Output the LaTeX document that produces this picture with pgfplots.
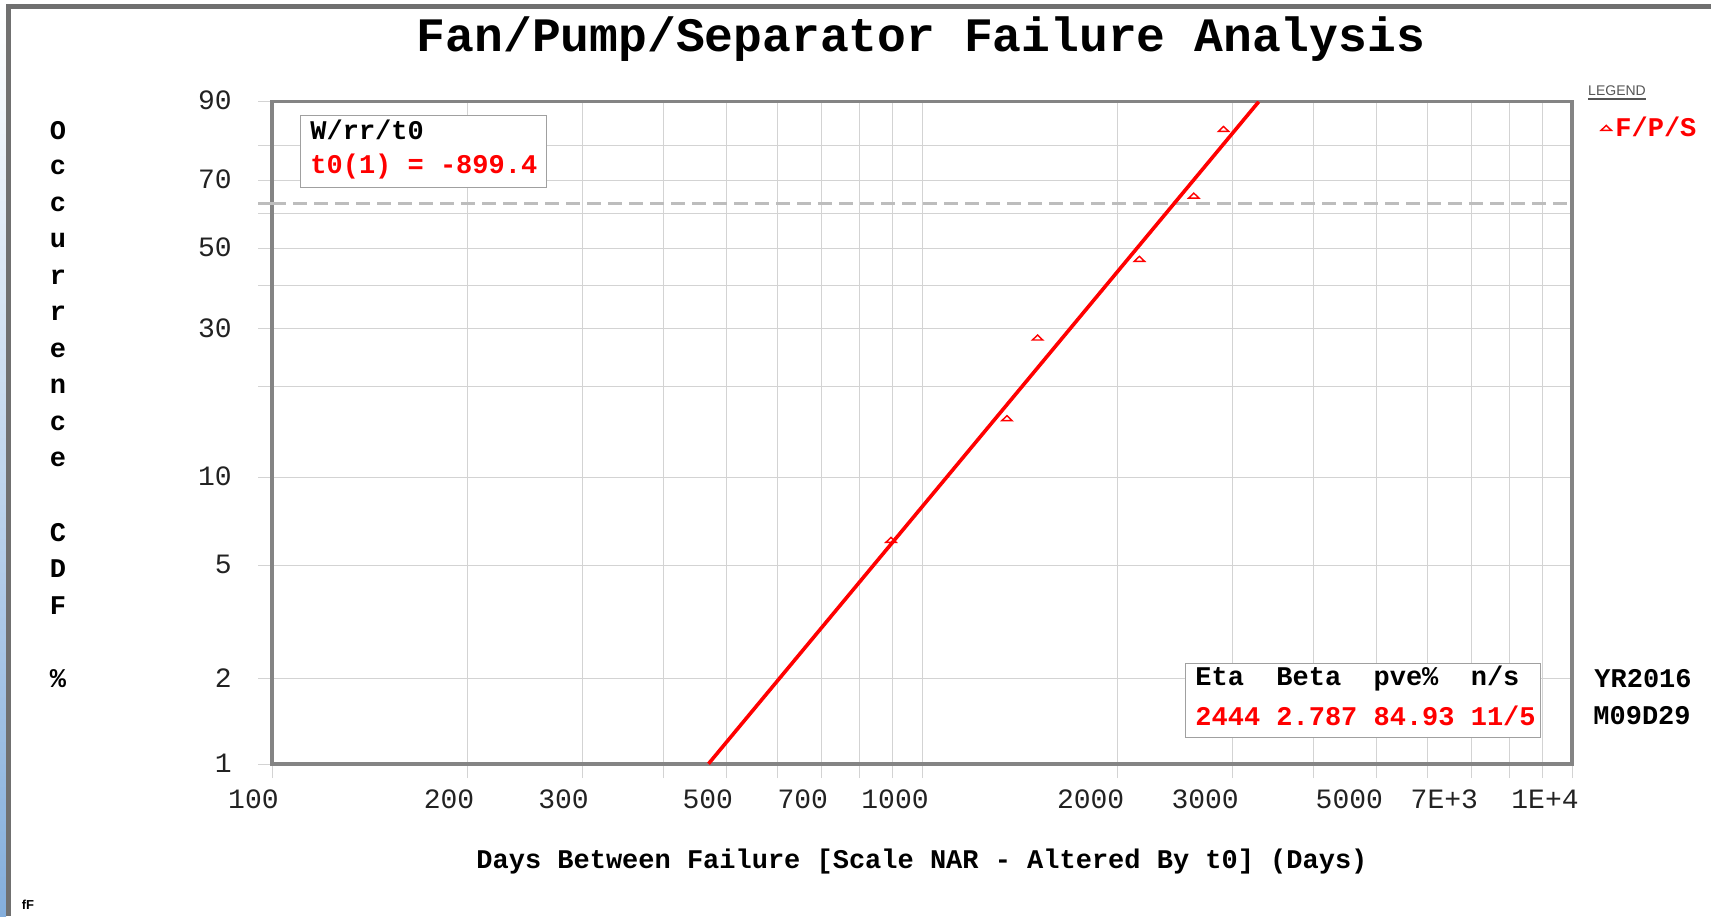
\documentclass[border=0pt]{standalone}
\usepackage{pgfplots}
\pgfplotsset{compat=1.18}
\usepackage{fontspec}
\setmainfont{Liberation Mono}
\newfontfamily\lsans{Liberation Sans}
\definecolor{gridgray}{HTML}{D3D3D3}
\definecolor{axgray}{HTML}{848484}
\definecolor{dashgray}{HTML}{BDBDBD}
\definecolor{boxgray}{HTML}{A0A0A0}
\definecolor{winblue}{HTML}{84AEDC}
\definecolor{wingray}{HTML}{707070}
\definecolor{txtgray}{HTML}{555555}
\definecolor{ticktxt}{HTML}{222222}

\pgfdeclareplotmark{flattri}{%
  \pgfpathmoveto{\pgfqpoint{-2.6pt}{-1.1pt}}%
  \pgfpathlineto{\pgfqpoint{2.6pt}{-1.1pt}}%
  \pgfpathlineto{\pgfqpoint{0pt}{1.4pt}}%
  \pgfpathclose
  \pgfusepathqstroke}

\newcommand{\boxfont}{\fontsize{13.5}{16}\selectfont\bfseries}

\begin{document}
\begin{tikzpicture}
\path[use as bounding box] (0pt,0pt) rectangle (855.5pt,458pt);
% window frame
\shade[top color=white, bottom color=winblue] (0pt,0pt) rectangle (3pt,456pt);
\fill[wingray] (3pt,0pt) rectangle (5.5pt,456pt);
\fill[wingray] (3pt,453.5pt) rectangle (855.5pt,456pt);

% Weibull probability scale: plotted y = ln(-ln(1 - F/100)), F in percent
\begin{axis}[
  at={(136pt,76pt)}, anchor=south west,
  scale only axis, width=650pt, height=331.15pt,
  xmode=log, xmin=100, xmax=10000,
  ymin=-4.600149, ymax=0.834032,
  y filter/.expression={ln(-ln(1-y/100))},
  xtick={100,200,300,500,700,1000,2000,3000,5000,7000,10000},
  xticklabels={100,200,300,500,700,1000,2000,3000,5000,7E+3,1E+4},
  minor xtick={400,600,800,900,4000,6000,8000,9000},
  ytick={-4.600149,-3.901939,-2.970195,-2.250367,-1.030930,-0.366513,0.185627,0.834032},
  yticklabels={1,2,5,10,30,50,70,90},
  minor ytick={-1.499940,-0.671727,-0.087422,0.475885},
  extra y ticks={0},
  extra y tick labels={},
  extra y tick style={
    major grid style={dashgray, line width=1.3pt, dash pattern=on 7pt off 3.5pt},
    major tick style={dashgray, line width=1.3pt}},
  grid=both,
  major grid style={gridgray, line width=0.5pt},
  minor grid style={gridgray, line width=0.5pt},
  tick align=outside, tick pos=left,
  major tick length=7pt, minor tick length=7pt,
  tick style={gridgray, line width=0.5pt},
  minor tick style={gridgray, line width=0.5pt},
  axis line style={axgray, line width=1.8pt},
  xticklabel style={font=\fontsize{14}{16}\selectfont, text=ticktxt, anchor=base east, xshift=3.5pt, yshift=-15pt, inner sep=0pt},
  yticklabel style={font=\fontsize{14}{16}\selectfont, text=ticktxt, anchor=east, xshift=-13pt, yshift=0.5pt, inner sep=0pt},
  legend style={at={(1.022,0.960)}, anchor=west, draw=none, fill=none,
    font=\boxfont, text=red, inner sep=0pt},
  legend image code/.code={\draw[#1] plot coordinates {(0pt,0pt)};},
]
\addplot[red, only marks, mark=flattri, mark options={line width=0.7pt}]
  coordinates {(896,6.11) (1351,15.73) (1506,28.22) (2160,46.88) (2619,65.45) (2910,84.07)};
\addlegendentry{F/P/S}
\addplot[red, line width=1.8pt, forget plot] coordinates {(469.4,1) (3296.6,90)};
\end{axis}

% title and axis label
\node[font=\fontsize{24}{28}\selectfont\bfseries] at (460.5pt,438.5pt) {Fan/Pump/Separator Failure Analysis};
\node[font=\boxfont] at (461pt,27pt) {Days Between Failure [Scale NAR - Altered By t0] (Days)};
\foreach \c [count=\i from 0] in {O,c,c,u,r,r,e,n,c,e,{},C,D,F,{},\%}
  \node[font=\boxfont] at (29pt,392.5pt-18.25pt*\i) {\c};

% top-left box
\draw[boxgray, line width=0.5pt, fill=white] (150pt,364pt) rectangle (273pt,400pt);
\node[font=\boxfont, anchor=west, inner sep=0pt] at (155pt,393pt) {W/rr/t0};
\node[font=\boxfont, anchor=west, inner sep=0pt, text=red] at (155pt,374.5pt) {t0(1)~=~-899.4};

% bottom-right box
\draw[boxgray, line width=0.5pt, fill=white] (592.5pt,89.5pt) rectangle (770pt,126.5pt);
\node[font=\boxfont, anchor=west, inner sep=0pt] at (597.5pt,118.5pt) {Eta~~Beta~~pve\%~~n/s};
\node[font=\boxfont, anchor=west, inner sep=0pt, text=red] at (597.5pt,100pt) {2444~2.787~84.93~11/5};

% right texts
\node[font=\boxfont] at (821.5pt,118.5pt) {YR2016};
\node[font=\boxfont] at (821pt,100pt) {M09D29};

% legend header
\node[font=\lsans\fontsize{7}{8}\selectfont, text=txtgray] at (808.5pt,412.5pt) {LEGEND};
\draw[txtgray, line width=0.6pt] (794pt,408.5pt) -- (823pt,408.5pt);

% corner mark
\node[font=\lsans\fontsize{6.5}{7}\selectfont\bfseries] at (14pt,5.5pt) {fF};
\end{tikzpicture}
\end{document}
